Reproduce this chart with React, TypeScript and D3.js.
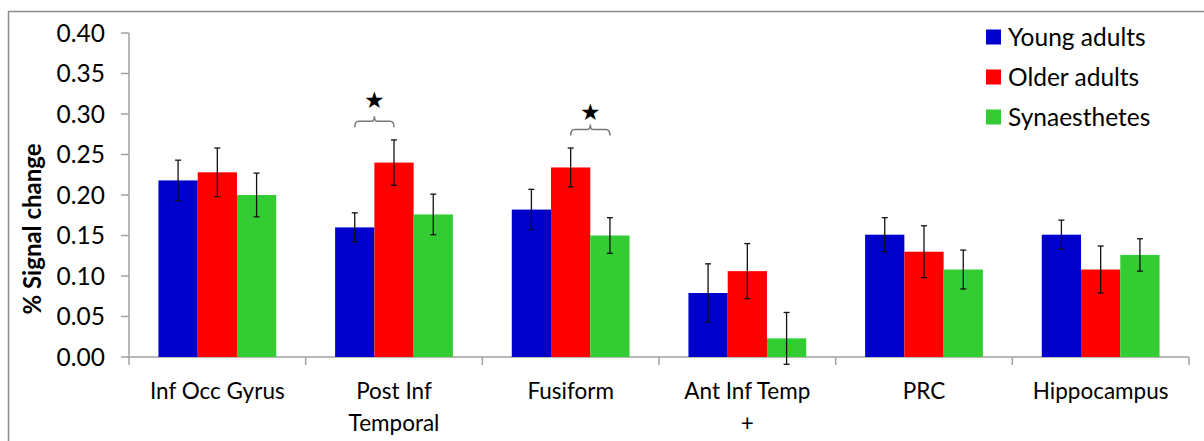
import React from "react";
import * as d3 from "d3";

const regions = ["Inf Occ Gyrus", "Post Inf|Temporal", "Fusiform", "Ant Inf Temp|+", "PRC", "Hippocampus"];
const groups = ["Young adults", "Older adults", "Synaesthetes"];
const colors = ["#0000CC", "#FF0000", "#33CC33"];

const young = [0.218, 0.16, 0.182, 0.079, 0.151, 0.151];
const youngErr = [0.025, 0.018, 0.025, 0.036, 0.021, 0.018];
const older = [0.228, 0.24, 0.234, 0.106, 0.13, 0.108];
const olderErr = [0.03, 0.028, 0.024, 0.034, 0.032, 0.029];
const synaes = [0.2, 0.176, 0.15, 0.023, 0.108, 0.126];
const synaesErr = [0.027, 0.025, 0.022, 0.032, 0.024, 0.02];

const yTicks = [0, 0.05, 0.1, 0.15, 0.2, 0.25, 0.3, 0.35, 0.4];

// significance brackets: region, from group, to group, bracket level, star level
const sigRegion = [1, 2];
const sigFrom = [0, 1];
const sigTo = [1, 2];
const sigLevel = [0.291, 0.281];
const starLevel = [0.317, 0.302];

const values = [young, older, synaes];
const errors = [youngErr, olderErr, synaesErr];

const font = "Lato, 'Open Sans', sans-serif";

export default function App() {
  const width = 1204;
  const height = 441;
  const left = 129;
  const right = 1189;
  const top = 33;
  const bottom = 357;

  const x = d3.scaleBand().domain(regions).range([left, right]).paddingInner(1 / 3).paddingOuter(1 / 6);
  const step = x.step();
  const inner = d3.scaleBand().domain(groups).range([0, x.bandwidth()]);
  const y = d3.scaleLinear().domain([0, 0.4]).range([bottom, top]);

  const bw = inner.bandwidth();
  const cx = (r: number, g: number) => (x(regions[r]) as number) + (inner(groups[g]) as number) + bw / 2;

  return (
    <svg width={width} height={height} style={{ position: "absolute", left: 0, top: 0, background: "#fff" }}>
      {/* outer frame */}
      <path d={`M8.5,${height} V11.5 H${width}`} fill="none" stroke="#8c8c8c" strokeWidth={1.5} />

      {/* y axis */}
      <line x1={left} x2={left} y1={top} y2={bottom} stroke="#a0a0a0" strokeWidth={1.5} />
      {yTicks.map((t) => (
        <g key={t}>
          <line x1={left - 8} x2={left} y1={y(t)} y2={y(t)} stroke="#a0a0a0" strokeWidth={1.5} />
          <text x={105} y={y(t)} dy="0.36em" textAnchor="end" fontSize={24.5} fontFamily={font} fill="#000">
            {d3.format(".2f")(t)}
          </text>
        </g>
      ))}
      <text
        transform={`translate(33,${(top + bottom) / 2 + 34}) rotate(-90)`}
        textAnchor="middle"
        dy="0.35em"
        fontSize={24}
        fontWeight="bold"
        fontFamily={font}
      >
        % Signal change
      </text>

      {/* x axis */}
      <line x1={left} x2={right} y1={bottom} y2={bottom} stroke="#a0a0a0" strokeWidth={1.5} />
      {d3.range(regions.length + 1).map((i) => (
        <line key={i} x1={left + i * step} x2={left + i * step} y1={bottom} y2={bottom + 8} stroke="#a0a0a0" strokeWidth={1.5} />
      ))}
      {regions.map((r) => (
        <text key={r} x={(x(r) as number) + x.bandwidth() / 2} y={399} textAnchor="middle" fontSize={22.5} fontFamily={font}>
          {r.split("|").map((line, i) => (
            <tspan key={i} x={(x(r) as number) + x.bandwidth() / 2} dy={i === 0 ? 0 : 32}>
              {line}
            </tspan>
          ))}
        </text>
      ))}

      {/* bars */}
      {regions.map((r, ri) =>
        groups.map((g, gi) => (
          <rect
            key={r + g}
            x={(x(r) as number) + (inner(g) as number)}
            y={y(values[gi][ri])}
            width={bw}
            height={bottom - y(values[gi][ri])}
            fill={colors[gi]}
          />
        ))
      )}

      {/* error bars */}
      {regions.map((r, ri) =>
        groups.map((g, gi) => {
          const c = cx(ri, gi);
          const hi = y(values[gi][ri] + errors[gi][ri]);
          const lo = y(values[gi][ri] - errors[gi][ri]);
          return (
            <g key={r + g} stroke="#111" strokeWidth={1.3}>
              <line x1={c} x2={c} y1={hi} y2={lo} />
              <line x1={c - 3} x2={c + 3} y1={hi} y2={hi} />
              <line x1={c - 3} x2={c + 3} y1={lo} y2={lo} />
            </g>
          );
        })
      )}

      {/* significance */}
      {sigRegion.map((ri, i) => {
        const x1 = cx(ri, sigFrom[i]);
        const x2 = cx(ri, sigTo[i]);
        const xm = (x1 + x2) / 2;
        const yb = y(sigLevel[i]);
        const d = `M${x1},${yb + 6} Q${x1},${yb} ${x1 + 4},${yb} H${xm - 3} Q${xm},${yb} ${xm},${yb - 5} Q${xm},${yb} ${xm + 3},${yb} H${x2 - 4} Q${x2},${yb} ${x2},${yb + 6}`;
        return (
          <g key={i}>
            <path d={d} fill="none" stroke="#777" strokeWidth={1.5} />
            <text x={xm} y={y(starLevel[i])} dy="0.35em" textAnchor="middle" fontSize={23} fontFamily="DejaVu Sans">
              ★
            </text>
          </g>
        );
      })}

      {/* legend */}
      {groups.map((g, i) => (
        <g key={g} transform={`translate(986,${37 + i * 40})`}>
          <rect x={0} y={-7.5} width={15} height={15} fill={colors[i]} />
          <text x={22} y={0} dy="0.36em" fontSize={24.5} fontFamily={font}>
            {g}
          </text>
        </g>
      ))}
    </svg>
  );
}
